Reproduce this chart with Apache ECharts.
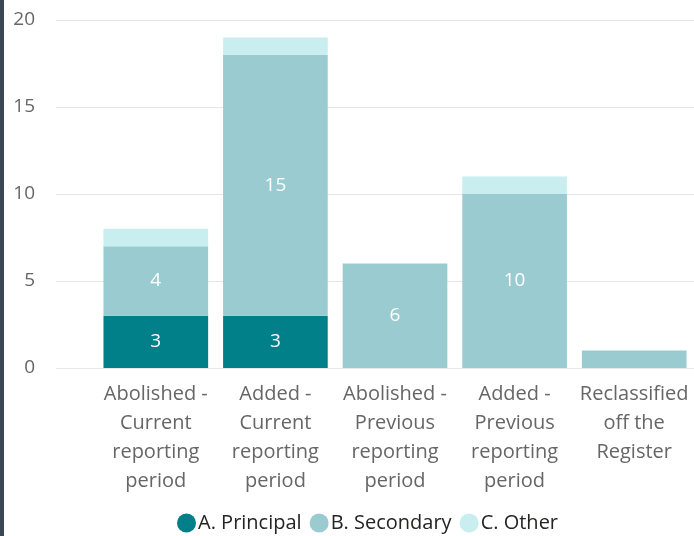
<!DOCTYPE html>
<html>
<head>
<meta charset="utf-8">
<script src="https://cdn.jsdelivr.net/npm/echarts@6/dist/echarts.min.js"></script>
<style>
  html,body{margin:0;padding:0;background:#fff;}
  #edge{position:absolute;left:0;top:0;width:4px;height:536px;background:#3b4654;}
  #chart{width:694px;height:536px;}
</style>
</head>
<body>
<div id="edge"></div>
<div id="chart"></div>
<script>
// categories and values
var categories=["Abolished -\nCurrent\nreporting\nperiod","Added -\nCurrent\nreporting\nperiod",
    "Abolished -\nPrevious\nreporting\nperiod","Added -\nPrevious\nreporting\nperiod",
    "Reclassified\noff the\nRegister"];
var principal=[3,3,0,0,0];
var secondary=[4,15,6,10,1];
var other=[1,1,0,1,0];
var yTicks=[0,5,10,15,20];

var font="'Open Sans', 'Noto Sans', sans-serif";

function lbl(p)
{
    //small segments get no label
    return p.value>=2 ? p.value : '';
}

function bar(name,data,color)
{
    return {
        name:name,
        type:'bar',
        stack:'all',
        xAxisIndex:1,
        yAxisIndex:1,
        data:data,
        barCategoryGap:'12.5%',
        itemStyle:{color:color},
        label:{show:true,position:'inside',color:'#fff',fontSize:19,fontFamily:font,formatter:lbl}
    };
}

var myChart=echarts.init(document.getElementById('chart'));
option={
    animation:false,
    legend:{
        bottom:-2,
        left:172,
        icon:'circle',
        itemWidth:19,
        itemHeight:19,
        itemGap:8,
        textStyle:{color:'#252423',fontSize:20,fontFamily:font,padding:[0,0,0,-3]},
        data:['A. Principal','B. Secondary','C. Other']
    },
    grid:[
        {left:56,right:0,top:20,height:348},
        {left:96,width:600,top:20,height:348}
    ],
    xAxis:[
        {gridIndex:0,type:'value',show:false},
        {gridIndex:1,type:'category',data:categories,
            axisLine:{show:false},axisTick:{show:false},
            axisLabel:{color:'#666',fontSize:20,fontFamily:font,lineHeight:29,interval:0,margin:12}}
    ],
    yAxis:[
        {gridIndex:0,type:'value',min:yTicks[0],max:yTicks[yTicks.length-1],interval:5,
            axisLine:{show:false},axisTick:{show:false},
            axisLabel:{color:'#666',fontSize:19,fontFamily:font,margin:21},
            splitLine:{lineStyle:{color:'#e6e6e6',width:1}}},
        {gridIndex:1,type:'value',min:0,max:20,interval:5,show:false,splitLine:{show:false}}
    ],
    series:[
        bar('A. Principal',principal,'#01808a'),
        bar('B. Secondary',secondary,'#99cbd0'),
        bar('C. Other',other,'#c8eef0')
    ]
};
myChart.setOption(option);
</script>
</body>
</html>
